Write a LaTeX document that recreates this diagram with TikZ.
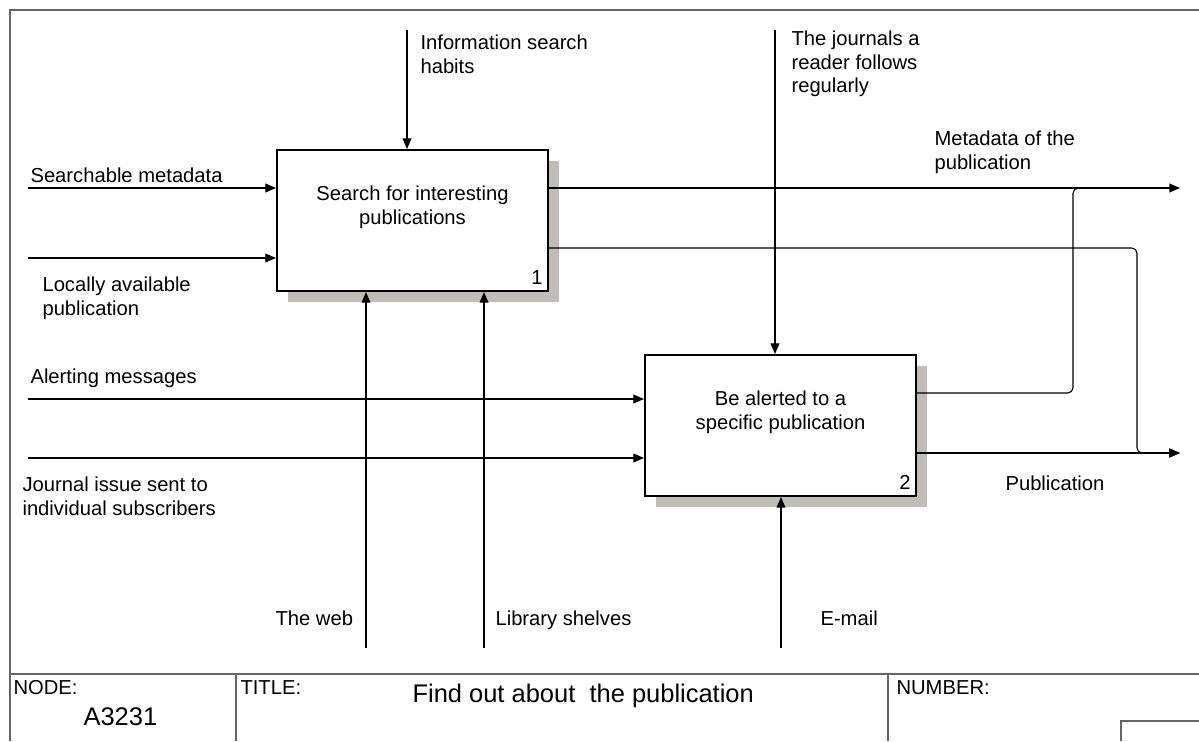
\documentclass[tikz,border=0pt]{standalone}
\usepackage{fontspec}
\setmainfont{Liberation Sans}
\usetikzlibrary{arrows.meta,shadows}
\definecolor{shadowgray}{RGB}{192,188,182}

\begin{document}
\begin{tikzpicture}[x=0.02cm,y=-0.02cm,line width=0.6pt,>={Triangle[length=6pt,width=5pt]},
  proc/.style={draw,line width=1.2pt,fill=white,minimum width=5.42cm,minimum height=2.82cm,
    drop shadow={shadow xshift=0.22cm,shadow yshift=-0.22cm,fill=shadowgray,opacity=1}},
  lab/.style={font=\fontsize{11.5}{13.6}\selectfont,align=left,inner sep=0pt,anchor=north west},
  big/.style={font=\fontsize{14.5}{16}\selectfont,inner sep=0pt,anchor=north west},
  frame/.style={draw=gray!80!black,line width=1pt}]
\useasboundingbox (0,0) rectangle (1199,741);
% frame
\draw[frame] (1199,10) -- (10,10) -- (10,741);
\draw[frame] (10,674) -- (1199,674) (236,674) -- (236,741) (888,674) -- (888,741);
\draw[frame] (1121,741) -- (1121,721) -- (1199,721);
\node[lab] (nd) at (13,680) {NODE:};
\node[big] (ndnum) at (83,707) {A3231};
\node[lab] (tt) at (240,680) {TITLE:};
\node[big] (ttname) at (412,683) {Find out about\ \ the publication};
\node[lab] (nb) at (896,680) {NUMBER:};
% activities
\node[proc] (b1) at (412.5,220.5) {};
\node[proc] (b2) at (780.5,425.5) {};
\node[lab,align=center,anchor=center] (b1t) at ([yshift=0.26cm]b1.center) {Search for interesting\\publications};
\node[lab,align=center,anchor=center] (b2t) at ([yshift=0.26cm]b2.center) {Be alerted to a\\specific publication};
\node[lab,anchor=south east] (b1n) at ([xshift=-0.12cm,yshift=0.14cm]b1.south east) {1};
\node[lab,anchor=south east] (b2n) at ([xshift=-0.12cm,yshift=0.14cm]b2.south east) {2};
% free ends
\coordinate (i1) at (28,188); \coordinate (i2) at (28,258);
\coordinate (i3) at (28,399); \coordinate (i4) at (28,458);
\coordinate (c1) at (407,30); \coordinate (c2) at (775,30);
\coordinate (m1) at (366,648); \coordinate (m2) at (484,648); \coordinate (m3) at (781,648);
\coordinate (o1) at (1180,188); \coordinate (o2) at (1180,453);
% inputs
\draw[->] (i1) -- (i1 -| b1.west);
\draw[->] (i2) -- (i2 -| b1.west);
\draw[->] (i3) -- (i3 -| b2.west);
\draw[->] (i4) -- (i4 -| b2.west);
% controls
\draw[->] (c1) -- (c1 |- b1.north);
\draw[->] (c2) -- (c2 |- b2.north);
% mechanisms
\draw[->] (m1) -- (m1 |- b1.south);
\draw[->] (m2) -- (m2 |- b1.south);
\draw[->] (m3) -- (m3 |- b2.south);
% outputs
\draw[->] (o1 -| b1.east) -- (o1);
\draw[->,rounded corners=3pt] (b1.east |- 0,248) -- (1137,248) -- (1137,453) -- (o2);
\draw[rounded corners=3pt] (b2.east |- 0,393) -- (1073,393) -- (1073,188) -- (1095,188);
\draw[->] (o2 -| b2.east) -- (o2);
% labels
\node[lab] (l1) at (30,167) {Searchable metadata};
\node[lab] (l2) at (42,276) {Locally available\\publication};
\node[lab] (l3) at (30,368) {Alerting messages};
\node[lab] (l4) at (22,476) {Journal issue sent to\\individual subscribers};
\node[lab] (l5) at (420,34) {Information search\\habits};
\node[lab] (l6) at (791,30) {The journals a\\reader follows\\regularly};
\node[lab] (l7) at (934,130) {Metadata of the\\publication};
\node[lab] (l8) at (1005,475) {Publication};
\node[lab] (l9) at (275,610) {The web};
\node[lab] (l10) at (495,610) {Library shelves};
\node[lab] (l11) at (820,610) {E-mail};
\end{tikzpicture}
\end{document}
